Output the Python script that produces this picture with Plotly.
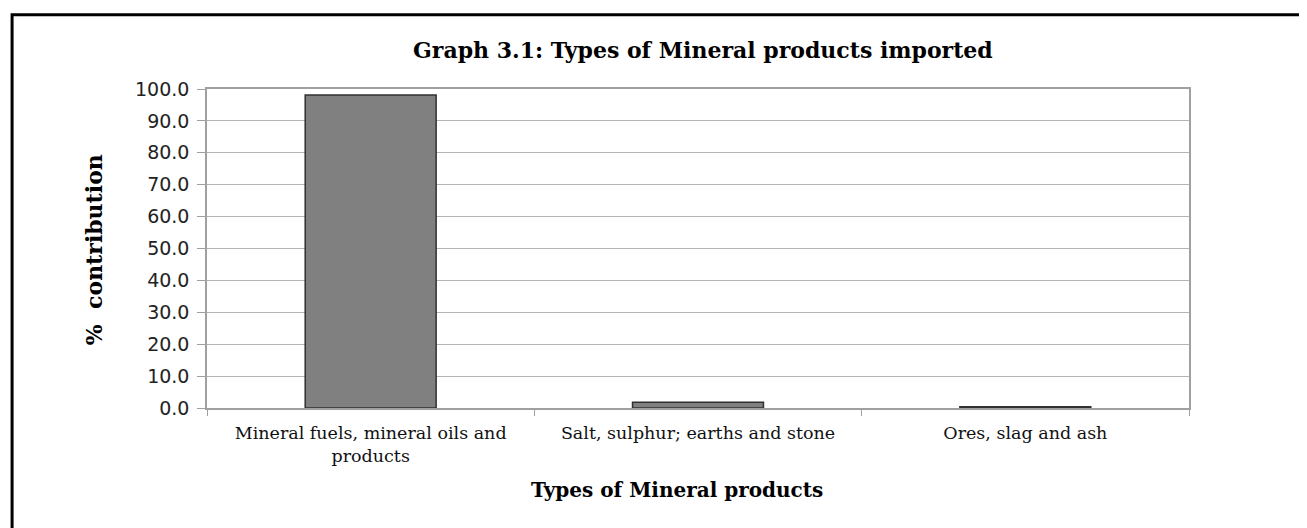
import plotly.graph_objects as go

categories = [
    "Mineral fuels, mineral oils and<br>products",
    "Salt, sulphur; earths and stone",
    "Ores, slag and ash",
]
contribution = [98.1, 1.8, 0.4]
y_ticks = [0, 10, 20, 30, 40, 50, 60, 70, 80, 90, 100]

serif = "DejaVu Serif, Times New Roman, serif"
sans = "DejaVu Sans, Verdana, sans-serif"

fig = go.Figure(go.Bar(
    x=categories,
    y=contribution,
    marker=dict(color="#808080", line=dict(color="#303030", width=1.5)),
    width=0.4,
))

# page has 8px body margin, so figure is slightly smaller than the window
fig.update_layout(
    width=1299,
    height=520,
    paper_bgcolor="white",
    plot_bgcolor="white",
    margin=dict(l=199, r=118, t=81, b=120),
    showlegend=False,
    title=dict(
        text="<b>Graph 3.1: Types of Mineral products imported</b>",
        font=dict(family=serif, size=22, color="black"),
        xref="paper", x=0.505, xanchor="center", y=0.919, yanchor="middle",
    ),
)

fig.update_xaxes(
    showline=True, linecolor="#a0a0a0", linewidth=1.5,
    ticks="outside", tickson="boundaries", ticklen=6, tickcolor="#a0a0a0",
    tickfont=dict(family=serif, size=17.5, color="#111111"),
    ticklabelstandoff=8,
    mirror=True,
)

fig.update_yaxes(
    range=[0, 100], tickvals=y_ticks, tickformat=".1f",
    showline=True, linecolor="#a0a0a0", linewidth=1.5,
    ticks="outside", ticklen=8, tickcolor="#a0a0a0",
    gridcolor="#b4b4b4", gridwidth=1,
    tickfont=dict(family=sans, size=19, color="#222222"),
    ticklabelstandoff=4,
    mirror=True, zeroline=False,
)

# axis titles as annotations (Excel-style placement)
fig.add_annotation(
    text="<b>%  contribution</b>", xref="paper", yref="paper",
    x=-0.115, y=0.495, xanchor="center", yanchor="middle",
    textangle=-90, showarrow=False,
    font=dict(family=serif, size=22, color="black"),
)
fig.add_annotation(
    text="<b>Types of Mineral products</b>", xref="paper", yref="paper",
    x=0.479, y=-0.257, xanchor="center", yanchor="middle", showarrow=False,
    font=dict(family=serif, size=20, color="black"),
)

# outer black frame of the chart object
fig.add_shape(
    type="rect", xref="paper", yref="paper",
    x0=-0.1985, x1=1.25, y0=-0.6, y1=1.233,
    line=dict(color="black", width=3), layer="below",
)

fig.write_html("out.html")
